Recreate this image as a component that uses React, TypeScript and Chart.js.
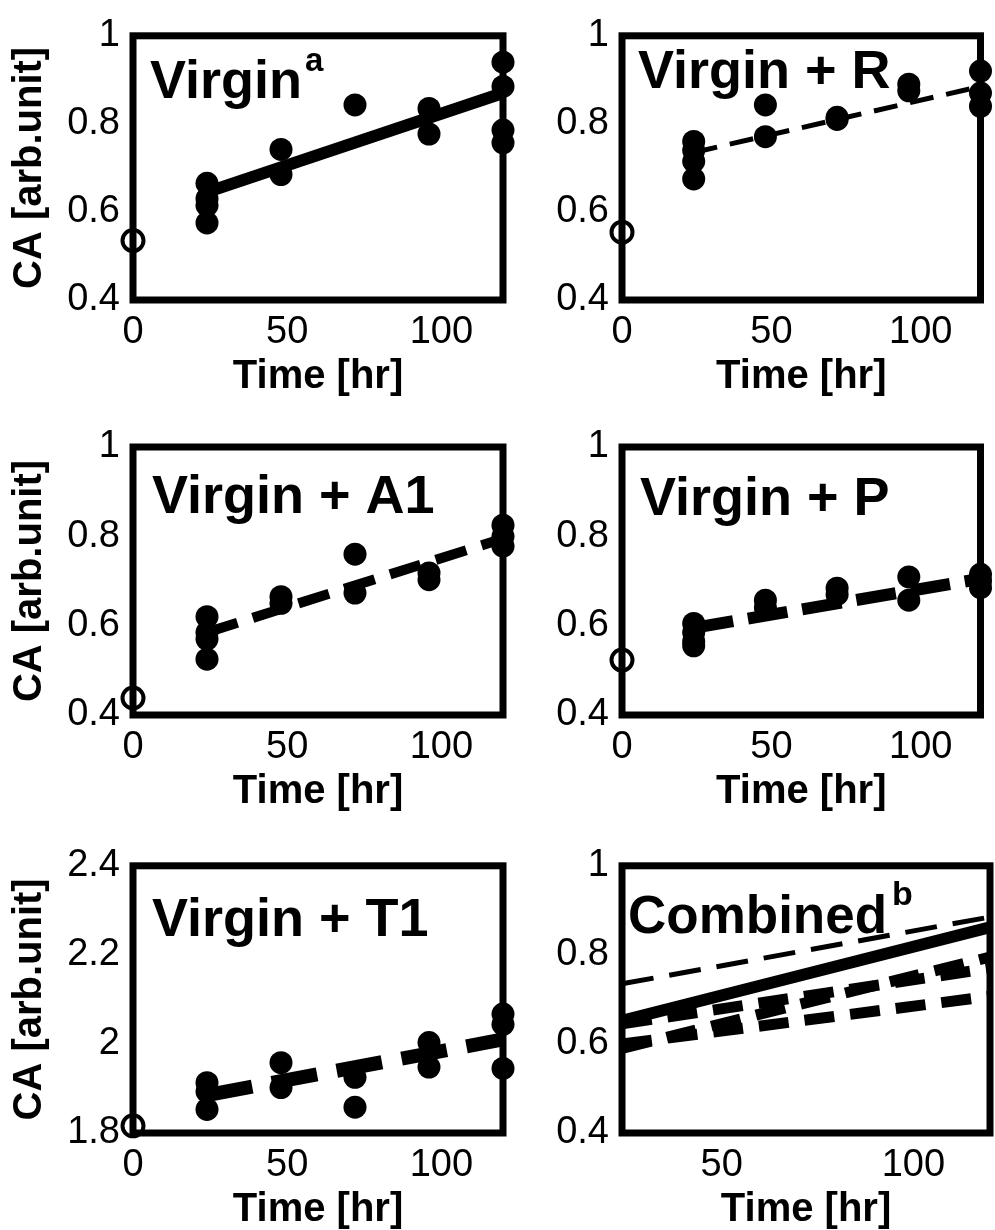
import React, { useEffect, useRef } from "react";
import { Chart, registerables } from "chart.js";

Chart.register(...registerables);

const FONT_FAMILY = "'Liberation Sans', Arial, Helvetica, sans-serif";

// ---------- axis ticks ----------
const timeTicks = [0, 50, 100];
const timeTickLabels = ["0", "50", "100"];
const combinedTimeTicks = [50, 100];
const combinedTimeTickLabels = ["50", "100"];
const caTicks = [0.4, 0.6, 0.8, 1.0];
const caTickLabels = ["0.4", "0.6", "0.8", "1"];
const t1Ticks = [1.8, 2.0, 2.2, 2.4];
const t1TickLabels = ["1.8", "2", "2.2", "2.4"];

const fitTimes = [24, 120];

// ---------- Virgin ----------
const virginTimes = [24, 24, 24, 24, 48, 48, 72, 96, 96, 120, 120, 120, 120];
const virginCA = [0.665, 0.63, 0.615, 0.575, 0.742, 0.685, 0.843, 0.835, 0.777, 0.94, 0.885, 0.786, 0.757];
const virginStart = 0.535;
const virginFit = [0.645, 0.87];

// ---------- Virgin + R ----------
const rTimes = [24, 24, 24, 24, 48, 48, 72, 72, 96, 96, 120, 120, 120];
const rCA = [0.76, 0.74, 0.715, 0.675, 0.843, 0.771, 0.815, 0.81, 0.89, 0.875, 0.92, 0.87, 0.84];
const rStart = 0.554;
const rFit = [0.735, 0.885];

// ---------- Virgin + A1 ----------
const a1Times = [24, 24, 24, 24, 48, 48, 72, 72, 96, 96, 120, 120, 120];
const a1CA = [0.62, 0.585, 0.57, 0.525, 0.665, 0.65, 0.76, 0.673, 0.718, 0.703, 0.825, 0.8, 0.778];
const a1Start = 0.438;
const a1Fit = [0.585, 0.795];

// ---------- Virgin + P ----------
const pTimes = [24, 24, 24, 24, 48, 48, 72, 72, 96, 96, 120, 120, 120];
const pCA = [0.605, 0.585, 0.565, 0.555, 0.657, 0.64, 0.684, 0.67, 0.709, 0.657, 0.715, 0.7, 0.685];
const pStart = 0.523;
const pFit = [0.595, 0.705];

// ---------- Virgin + T1 ----------
const t1Times = [24, 24, 24, 48, 48, 72, 72, 96, 96, 120, 120, 120];
const t1CA = [1.913, 1.893, 1.853, 1.958, 1.902, 1.925, 1.858, 2.003, 1.948, 2.067, 2.044, 1.945];
const t1Start = 1.816;
const t1Fit = [1.885, 2.01];

// ---------- Combined fits ----------
const combinedVirgin = [0.652, 0.862];
const combinedR = [0.735, 0.885];
const combinedA1 = [0.59, 0.795];
const combinedT1 = [0.645, 0.77];
const combinedP = [0.6, 0.707];

// ---------- layout ----------
const Y_AXIS_W_LEFT = 123;
const Y_AXIS_W_RIGHT = 80;
const X_AXIS_H = 97;

type Box = { l: number; t: number; r: number; b: number };
type Cell = { x: number; y: number; w: number; h: number };

const pts = (xs: number[], ys: number[]) => xs.map((x, i) => ({ x, y: ys[i] }));

function fitLine(values: number[], width: number, dash: number[]) {
  return {
    type: "line" as const,
    data: pts(fitTimes, values),
    borderColor: "#000",
    borderWidth: width,
    borderDash: dash,
    borderCapStyle: "butt" as const,
    pointRadius: 0,
    fill: false,
    showLine: true,
    clip: false as const,
    order: 1,
  };
}

function samples(times: number[], values: number[]) {
  return {
    type: "scatter" as const,
    data: pts(times, values),
    pointRadius: 11.5,
    pointBackgroundColor: "#000",
    pointBorderWidth: 0,
    showLine: false,
    clip: false as const,
    order: 0,
  };
}

function startPoint(value: number) {
  return {
    type: "scatter" as const,
    data: [{ x: 0, y: value }],
    pointRadius: 10.5,
    pointBackgroundColor: "rgba(0,0,0,0)",
    pointBorderColor: "#000",
    pointBorderWidth: 4,
    showLine: false,
    clip: false as const,
    order: 0,
  };
}

const framePlugin = {
  id: "frame",
  beforeDatasetsDraw(chart: any) {
    const { ctx, chartArea } = chart;
    ctx.save();
    ctx.strokeStyle = "#000";
    ctx.lineWidth = 7;
    ctx.lineJoin = "miter";
    ctx.strokeRect(chartArea.left, chartArea.top, chartArea.right - chartArea.left, chartArea.bottom - chartArea.top);
    ctx.restore();
  },
};

const panelTitlePlugin = {
  id: "panelTitle",
  afterDatasetsDraw(chart: any, _args: any, opts: any) {
    const { ctx, chartArea } = chart;
    ctx.save();
    ctx.fillStyle = "#000";
    ctx.textBaseline = "alphabetic";
    ctx.textAlign = "left";
    ctx.font = `bold ${opts.size}px ${FONT_FAMILY}`;
    const x = chartArea.left + opts.dx;
    const y = chartArea.top + opts.dy;
    ctx.fillText(opts.text, x, y);
    if (opts.sup) {
      const w = ctx.measureText(opts.text).width;
      ctx.font = `bold ${opts.supSize}px ${FONT_FAMILY}`;
      ctx.fillText(opts.sup, x + w + opts.supGap, y - opts.supRise);
    }
    ctx.restore();
  },
};

type PanelSpec = {
  cell: Cell;
  box: Box;
  leftColumn: boolean;
  xMin: number;
  xMax: number;
  xTicks: number[];
  xLabels: string[];
  yMin: number;
  yMax: number;
  yTicks: number[];
  yLabels: string[];
  datasets: any[];
  title: any;
};

const panels: PanelSpec[] = [
  {
    cell: { x: 0, y: 0, w: 540, h: 410 },
    box: { l: 133, t: 28, r: 503, b: 300 },
    leftColumn: true,
    xMin: 0, xMax: 120, xTicks: timeTicks, xLabels: timeTickLabels,
    yMin: 0.4, yMax: 1, yTicks: caTicks, yLabels: caTickLabels,
    datasets: [fitLine(virginFit, 12, []), samples(virginTimes, virginCA), startPoint(virginStart)],
    title: { text: "Virgin", sup: "a", size: 54, supSize: 33, supGap: 3, supRise: 27, dx: 17, dy: 62 },
  },
  {
    cell: { x: 540, y: 0, w: 455, h: 410 },
    box: { l: 622, t: 28, r: 990, b: 300 },
    leftColumn: false,
    xMin: 0, xMax: 120, xTicks: timeTicks, xLabels: timeTickLabels,
    yMin: 0.4, yMax: 1, yTicks: caTicks, yLabels: caTickLabels,
    datasets: [fitLine(rFit, 5, [24, 13]), samples(rTimes, rCA), startPoint(rStart)],
    title: { text: "Virgin + R", size: 54, dx: 16, dy: 52 },
  },
  {
    cell: { x: 0, y: 410, w: 540, h: 420 },
    box: { l: 133, t: 447, r: 503, b: 715 },
    leftColumn: true,
    xMin: 0, xMax: 120, xTicks: timeTicks, xLabels: timeTickLabels,
    yMin: 0.4, yMax: 1, yTicks: caTicks, yLabels: caTickLabels,
    datasets: [fitLine(a1Fit, 10, [32, 16]), samples(a1Times, a1CA), startPoint(a1Start)],
    title: { text: "Virgin + A1", size: 54, dx: 19, dy: 66 },
  },
  {
    cell: { x: 540, y: 410, w: 455, h: 420 },
    box: { l: 622, t: 447, r: 990, b: 715 },
    leftColumn: false,
    xMin: 0, xMax: 120, xTicks: timeTicks, xLabels: timeTickLabels,
    yMin: 0.4, yMax: 1, yTicks: caTicks, yLabels: caTickLabels,
    datasets: [fitLine(pFit, 12, [40, 15]), samples(pTimes, pCA), startPoint(pStart)],
    title: { text: "Virgin + P", size: 54, dx: 18, dy: 68 },
  },
  {
    cell: { x: 0, y: 830, w: 540, h: 400 },
    box: { l: 133, t: 863, r: 503, b: 1133 },
    leftColumn: true,
    xMin: 0, xMax: 120, xTicks: timeTicks, xLabels: timeTickLabels,
    yMin: 1.8, yMax: 2.4, yTicks: t1Ticks, yLabels: t1TickLabels,
    datasets: [fitLine(t1Fit, 14, [46, 20]), samples(t1Times, t1CA), startPoint(t1Start)],
    title: { text: "Virgin + T1", size: 54, dx: 19, dy: 70 },
  },
  {
    cell: { x: 540, y: 830, w: 455, h: 400 },
    box: { l: 622, t: 863, r: 990, b: 1133 },
    leftColumn: false,
    xMin: 24, xMax: 120, xTicks: combinedTimeTicks, xLabels: combinedTimeTickLabels,
    yMin: 0.4, yMax: 1, yTicks: caTicks, yLabels: caTickLabels,
    datasets: [
      fitLine(combinedVirgin, 12, []),
      fitLine(combinedR, 5, [32, 16]),
      fitLine(combinedA1, 11, [30, 16]),
      fitLine(combinedT1, 11, [30, 16]),
      fitLine(combinedP, 11, [30, 16]),
    ],
    title: { text: "Combined", sup: "b", size: 53, supSize: 34, supGap: 5, supRise: 28, dx: 6, dy: 67 },
  },
];

function buildConfig(p: PanelSpec): any {
  const yW = p.leftColumn ? Y_AXIS_W_LEFT : Y_AXIS_W_RIGHT;
  const padding = {
    left: p.box.l - p.cell.x - yW,
    top: p.box.t - p.cell.y,
    right: p.cell.x + p.cell.w - p.box.r,
    bottom: p.cell.y + p.cell.h - p.box.b - X_AXIS_H,
  };
  return {
    type: "scatter",
    data: { datasets: p.datasets },
    options: {
      animation: false,
      responsive: false,
      devicePixelRatio: 1,
      events: [],
      layout: { padding },
      plugins: {
        legend: { display: false },
        tooltip: { enabled: false },
        panelTitle: p.title,
      },
      scales: {
        x: {
          type: "linear",
          position: "bottom",
          min: p.xMin,
          max: p.xMax,
          grid: { display: false, drawTicks: false },
          border: { display: false },
          afterBuildTicks: (scale: any) => {
            scale.ticks = p.xTicks.map((v) => ({ value: v }));
          },
          afterFit: (scale: any) => {
            scale.height = X_AXIS_H;
          },
          ticks: {
            color: "#000",
            font: { family: FONT_FAMILY, size: 38 },
            padding: 10,
            maxRotation: 0,
            autoSkip: false,
            callback: (_v: any, i: number) => p.xLabels[i],
          },
          title: {
            display: true,
            text: "Time [hr]",
            color: "#000",
            font: { family: FONT_FAMILY, size: 40, weight: "bold", lineHeight: 1 },
            padding: 0,
          },
        },
        y: {
          type: "linear",
          position: "left",
          min: p.yMin,
          max: p.yMax,
          grid: { display: false, drawTicks: false },
          border: { display: false },
          afterBuildTicks: (scale: any) => {
            scale.ticks = p.yTicks.map((v) => ({ value: v }));
          },
          afterFit: (scale: any) => {
            scale.width = yW;
          },
          ticks: {
            color: "#000",
            font: { family: FONT_FAMILY, size: 38 },
            padding: 13,
            autoSkip: false,
            callback: (_v: any, i: number) => p.yLabels[i],
          },
          title: {
            display: p.leftColumn,
            text: "CA [arb.unit]",
            color: "#000",
            font: { family: FONT_FAMILY, size: 40, weight: "bold", lineHeight: 1 },
            padding: 0,
          },
        },
      },
    },
    plugins: [framePlugin, panelTitlePlugin],
  };
}

function Panel({ spec }: { spec: PanelSpec }) {
  const ref = useRef<HTMLCanvasElement>(null);
  useEffect(() => {
    const chart = new Chart(ref.current as HTMLCanvasElement, buildConfig(spec));
    return () => chart.destroy();
  }, [spec]);
  return (
    <canvas
      ref={ref}
      width={spec.cell.w}
      height={spec.cell.h}
      style={{
        position: "absolute",
        left: spec.cell.x,
        top: spec.cell.y,
        width: spec.cell.w,
        height: spec.cell.h,
      }}
    />
  );
}

export default function App() {
  return (
    <div
      style={{
        position: "fixed",
        left: 0,
        top: 0,
        width: 995,
        height: 1230,
        overflow: "hidden",
        background: "#fff",
      }}
    >
      {panels.map((p, i) => (
        <Panel key={i} spec={p} />
      ))}
    </div>
  );
}
